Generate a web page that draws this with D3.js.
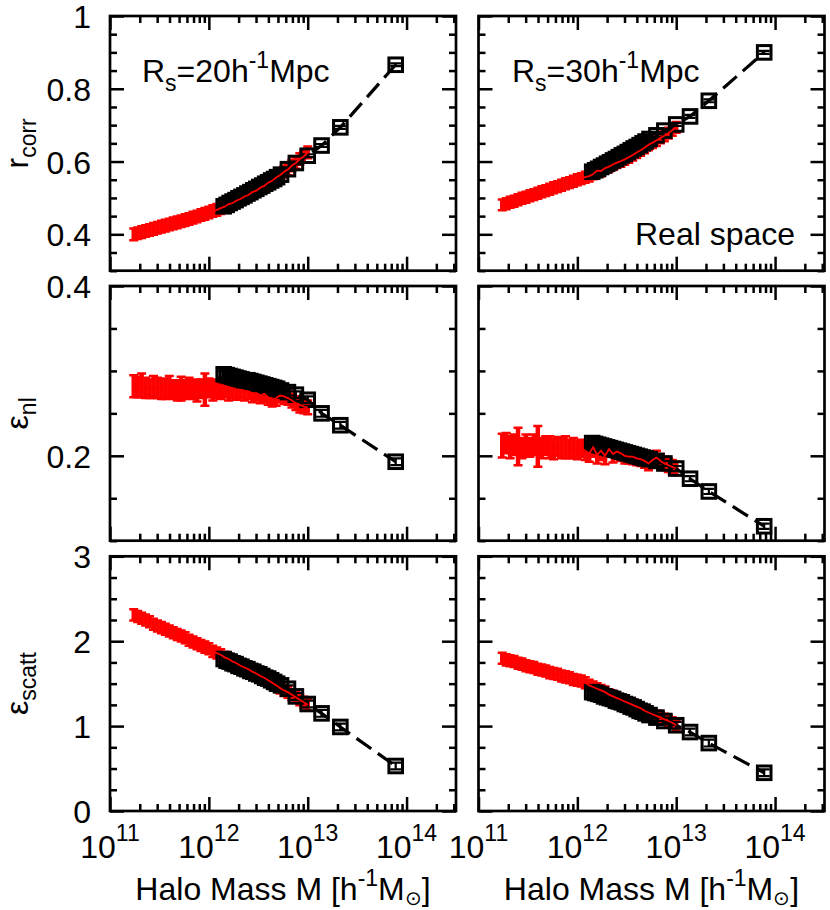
<!DOCTYPE html>
<html>
<head>
<meta charset="utf-8">
<script src="https://cdn.jsdelivr.net/npm/d3@7"></script>
<style>
  html, body { margin: 0; padding: 0; background: #fff; }
  svg text { font-family: "Liberation Sans", Arial, Helvetica, sans-serif; fill: #000; }
</style>
</head>
<body>
<svg id="chart" width="830" height="910"></svg>
<script>
// log10 of halo mass [h^-1 Msun] for the two samples
const logMassRed = [
  11.24, 11.28, 11.32, 11.36, 11.40, 11.44, 11.48, 11.52, 11.56, 11.60,
  11.64, 11.68, 11.72, 11.76, 11.80, 11.84, 11.88, 11.92, 11.96, 12.00,
  12.04, 12.08, 12.12, 12.16, 12.20, 12.24, 12.28, 12.32, 12.36, 12.40,
  12.44, 12.48, 12.52, 12.56, 12.60, 12.64, 12.68, 12.72, 12.76, 12.80,
  12.84, 12.88, 12.92, 12.96, 13.00];
const logMassBlack = [
  12.15, 12.18, 12.21, 12.24, 12.27, 12.30, 12.33, 12.36, 12.39, 12.42,
  12.45, 12.48, 12.51, 12.54, 12.57, 12.60, 12.63, 12.66, 12.69, 12.73,
  12.80, 12.88, 13.00, 13.14, 13.33, 13.89];

// r_corr, Rs = 20 and 30 h^-1 Mpc
const rcorr20Red = [
  0.400, 0.403, 0.406, 0.409, 0.412, 0.415, 0.418, 0.421, 0.424, 0.427,
  0.430, 0.433, 0.436, 0.439, 0.442, 0.446, 0.449, 0.453, 0.456, 0.460,
  0.464, 0.467, 0.472, 0.476, 0.483, 0.486, 0.493, 0.497, 0.504, 0.508,
  0.516, 0.520, 0.528, 0.533, 0.542, 0.547, 0.556, 0.562, 0.572, 0.578,
  0.589, 0.596, 0.607, 0.614, 0.625];
const rcorr20Black = [
  0.477, 0.481, 0.486, 0.490, 0.494, 0.499, 0.503, 0.507, 0.512, 0.516,
  0.521, 0.525, 0.530, 0.534, 0.539, 0.543, 0.548, 0.552, 0.557, 0.564,
  0.579, 0.596, 0.616, 0.644, 0.694, 0.866];
const rcorr30Red = [
  0.481, 0.484, 0.488, 0.491, 0.495, 0.499, 0.502, 0.506, 0.509, 0.513,
  0.517, 0.520, 0.524, 0.528, 0.531, 0.535, 0.539, 0.542, 0.546, 0.550,
  0.553, 0.557, 0.560, 0.566, 0.575, 0.574, 0.582, 0.586, 0.592, 0.597,
  0.601, 0.606, 0.612, 0.618, 0.625, 0.631, 0.638, 0.646, 0.652, 0.658,
  0.665, 0.671, 0.678, 0.686, 0.694];
const rcorr30Black = [
  0.572, 0.576, 0.580, 0.585, 0.589, 0.594, 0.598, 0.603, 0.607, 0.612,
  0.617, 0.621, 0.626, 0.631, 0.636, 0.640, 0.645, 0.650, 0.655, 0.662,
  0.672, 0.685, 0.702, 0.724, 0.767, 0.900];

// epsilon_nl
const nl20Red = [
  0.282, 0.281, 0.283, 0.280, 0.279, 0.281, 0.280, 0.278, 0.279, 0.281,
  0.278, 0.277, 0.279, 0.278, 0.280, 0.278, 0.277, 0.279, 0.278, 0.280,
  0.277, 0.279, 0.277, 0.281, 0.275, 0.279, 0.276, 0.277, 0.275, 0.276,
  0.273, 0.274, 0.271, 0.273, 0.269, 0.266, 0.268, 0.271, 0.270, 0.268,
  0.265, 0.262, 0.260, 0.258, 0.257];
const nl20RedErr = [
  0.013, 0.012, 0.014, 0.012, 0.011, 0.013, 0.012, 0.011, 0.012, 0.013,
  0.011, 0.012, 0.014, 0.011, 0.012, 0.011, 0.013, 0.011, 0.019, 0.011,
  0.012, 0.011, 0.010, 0.012, 0.010, 0.011, 0.010, 0.009, 0.010, 0.009,
  0.010, 0.009, 0.009, 0.010, 0.009, 0.008, 0.009, 0.008, 0.009, 0.008,
  0.008, 0.008, 0.009, 0.008, 0.008];
const nl20Black = [
  0.296, 0.295, 0.294, 0.293, 0.292, 0.291, 0.290, 0.289, 0.289, 0.288,
  0.287, 0.286, 0.285, 0.284, 0.283, 0.282, 0.281, 0.280, 0.279, 0.277,
  0.275, 0.272, 0.266, 0.250, 0.236, 0.193];
const nl30Red = [
  0.212, 0.215, 0.210, 0.213, 0.211, 0.209, 0.212, 0.210, 0.213, 0.211,
  0.209, 0.212, 0.210, 0.208, 0.211, 0.209, 0.210, 0.208, 0.209, 0.207,
  0.209, 0.206, 0.203, 0.210, 0.201, 0.206, 0.200, 0.208, 0.202, 0.205,
  0.203, 0.200, 0.199, 0.199, 0.197, 0.196, 0.194, 0.191, 0.195, 0.198,
  0.194, 0.191, 0.189, 0.187, 0.185];
const nl30RedErr = [
  0.014, 0.012, 0.013, 0.012, 0.022, 0.012, 0.013, 0.011, 0.012, 0.024,
  0.012, 0.011, 0.013, 0.012, 0.011, 0.012, 0.013, 0.011, 0.012, 0.011,
  0.010, 0.011, 0.010, 0.011, 0.010, 0.011, 0.010, 0.009, 0.010, 0.009,
  0.009, 0.009, 0.008, 0.009, 0.008, 0.008, 0.008, 0.008, 0.008, 0.008,
  0.008, 0.008, 0.008, 0.008, 0.008];
const nl30Black = [
  0.215, 0.214, 0.213, 0.212, 0.211, 0.210, 0.209, 0.208, 0.207, 0.206,
  0.205, 0.204, 0.203, 0.202, 0.201, 0.200, 0.199, 0.198, 0.197, 0.196,
  0.194, 0.191, 0.185, 0.173, 0.158, 0.117];

// epsilon_scatt
const sc20Red = [
  2.31, 2.29, 2.27, 2.25, 2.23, 2.20, 2.18, 2.16, 2.14, 2.12,
  2.10, 2.08, 2.06, 2.04, 2.01, 1.99, 1.97, 1.95, 1.93, 1.91,
  1.88, 1.86, 1.84, 1.81, 1.79, 1.76, 1.74, 1.71, 1.69, 1.67,
  1.64, 1.62, 1.59, 1.57, 1.54, 1.51, 1.48, 1.45, 1.42, 1.40,
  1.37, 1.34, 1.31, 1.28, 1.25];
const sc20Black = [
  1.79, 1.77, 1.76, 1.74, 1.73, 1.71, 1.70, 1.68, 1.67, 1.65,
  1.64, 1.62, 1.61, 1.59, 1.57, 1.56, 1.54, 1.52, 1.50, 1.48,
  1.44, 1.35, 1.26, 1.15, 0.99, 0.53];
const sc30Red = [
  1.80, 1.78, 1.77, 1.76, 1.74, 1.73, 1.71, 1.70, 1.69, 1.67,
  1.66, 1.65, 1.63, 1.62, 1.61, 1.59, 1.58, 1.57, 1.55, 1.54,
  1.53, 1.51, 1.48, 1.46, 1.44, 1.42, 1.40, 1.37, 1.35, 1.33,
  1.31, 1.29, 1.27, 1.25, 1.23, 1.21, 1.18, 1.16, 1.14, 1.12,
  1.10, 1.08, 1.06, 1.04, 1.01];
const sc30Black = [
  1.40, 1.39, 1.38, 1.37, 1.35, 1.34, 1.33, 1.32, 1.30, 1.29,
  1.28, 1.26, 1.25, 1.23, 1.22, 1.20, 1.18, 1.17, 1.15, 1.13,
  1.10, 1.06, 1.01, 0.93, 0.80, 0.45];

// flat error bars (panel order: rcorr20, rcorr30, nl20, nl30, sc20, sc30)
const redErrFlat = [0.016, 0.015, null, null, 0.065, 0.065];
const blackErr = [0.004, 0.004, 0.004, 0.003, 0.04, 0.04];

// axes
const yDomains = [[0.3, 1], [0.1, 0.4], [0, 3]];
const yMajor = [[0.4, 0.6, 0.8, 1], [0.2, 0.4], [0, 1, 2, 3]];
const yMinor = [
  [0.3, 0.35, 0.45, 0.5, 0.55, 0.65, 0.7, 0.75, 0.85, 0.9, 0.95],
  [0.1, 0.15, 0.25, 0.3, 0.35],
  [0.25, 0.5, 0.75, 1.25, 1.5, 1.75, 2.25, 2.5, 2.75]];
const xMajor = [1e11, 1e12, 1e13, 1e14];
const xTickExp = ['11', '12', '13', '14'];
const massDomain = [1e11, Math.pow(10, 14.5)];

const panels = [
  {row: 0, col: 0, red: rcorr20Red, black: rcorr20Black, redErr: redErrFlat[0], bErr: blackErr[0]},
  {row: 0, col: 1, red: rcorr30Red, black: rcorr30Black, redErr: redErrFlat[1], bErr: blackErr[1]},
  {row: 1, col: 0, red: nl20Red, black: nl20Black, redErr: nl20RedErr, bErr: blackErr[2]},
  {row: 1, col: 1, red: nl30Red, black: nl30Black, redErr: nl30RedErr, bErr: blackErr[3]},
  {row: 2, col: 0, red: sc20Red, black: sc20Black, redErr: redErrFlat[4], bErr: blackErr[4]},
  {row: 2, col: 1, red: sc30Red, black: sc30Black, redErr: redErrFlat[5], bErr: blackErr[5]}
];

const RED = '#ff0000';
const FS = 32, FS_SMALL = 23;
const svg = d3.select('#chart');
const colX = [110, 478.5];
const rowY = [16, 286, 556.3];
const pw = 346, ph = 254.7;

// minor log ticks 2..9 per decade
const xMinor = [];
for (let e = 11; e <= 14; e++) {
  for (let k = 2; k <= 9; k++) {
    const v = k * Math.pow(10, e);
    if (v < massDomain[1]) xMinor.push(v);
  }
}

function tickGroup(g, axis, tr) {
  const a = g.append('g').attr('transform', tr).call(axis);
  a.attr('font-size', null).attr('font-family', null);
  a.select('.domain').remove();
  a.selectAll('line').attr('stroke', '#000').attr('stroke-width', 2.5);
  a.selectAll('text').attr('font-size', FS).attr('fill', '#000').attr('dy', '0.36em');
  return a;
}

panels.forEach(p => {
  const x0 = colX[p.col], y0 = rowY[p.row];
  const x = d3.scaleLog().domain(massDomain).range([x0, x0 + pw]);
  const y = d3.scaleLinear().domain(yDomains[p.row]).range([y0 + ph, y0]);
  const g = svg.append('g');

  const redPts = logMassRed.map((m, i) => ({
    m: Math.pow(10, m), v: p.red[i],
    e: Array.isArray(p.redErr) ? p.redErr[i] : p.redErr
  }));
  const blackPts = logMassBlack.map((m, i) => ({m: Math.pow(10, m), v: p.black[i], e: p.bErr}));
  const line = d3.line().x(d => x(d.m)).y(d => y(d.v));

  // red error bars
  const rg = g.append('g').attr('stroke', RED).attr('fill', 'none');
  rg.selectAll('line').data(redPts).join('line')
    .attr('x1', d => x(d.m)).attr('x2', d => x(d.m))
    .attr('y1', d => y(d.v - d.e)).attr('y2', d => y(d.v + d.e))
    .attr('stroke-width', 4.5);
  rg.selectAll('path').data(redPts).join('path')
    .attr('d', d => `M${x(d.m) - 4.5},${y(d.v - d.e)}H${x(d.m) + 4.5}M${x(d.m) - 4.5},${y(d.v + d.e)}H${x(d.m) + 4.5}`)
    .attr('stroke-width', 2.5);

  // black dashed line
  g.append('path').datum(blackPts).attr('d', line)
    .attr('fill', 'none').attr('stroke', '#000').attr('stroke-width', 3.2)
    .attr('stroke-dasharray', '18,8');

  // black error bars and squares
  const bg = g.append('g').attr('stroke', '#000').attr('fill', 'none');
  bg.selectAll('path').data(blackPts).join('path')
    .attr('d', d => `M${x(d.m)},${y(d.v - d.e)}V${y(d.v + d.e)}M${x(d.m) - 5.5},${y(d.v - d.e)}H${x(d.m) + 5.5}M${x(d.m) - 5.5},${y(d.v + d.e)}H${x(d.m) + 5.5}`)
    .attr('stroke-width', 2.2);
  bg.selectAll('rect').data(blackPts).join('rect')
    .attr('x', d => x(d.m) - 6.8).attr('y', d => y(d.v) - 6.8)
    .attr('width', 13.6).attr('height', 13.6)
    .attr('stroke-width', 3);

  // red connecting line on top
  g.append('path').datum(redPts).attr('d', line)
    .attr('fill', 'none').attr('stroke', RED).attr('stroke-width', 1.8);

  // ticks on all four sides, pointing inwards
  tickGroup(g, d3.axisBottom(x).tickValues(xMajor).tickSize(-14).tickFormat(''), `translate(0,${y0 + ph})`);
  tickGroup(g, d3.axisBottom(x).tickValues(xMinor).tickSize(-7).tickFormat(''), `translate(0,${y0 + ph})`);
  tickGroup(g, d3.axisTop(x).tickValues(xMajor).tickSize(-14).tickFormat(''), `translate(0,${y0})`);
  tickGroup(g, d3.axisTop(x).tickValues(xMinor).tickSize(-7).tickFormat(''), `translate(0,${y0})`);
  tickGroup(g, d3.axisLeft(y).tickValues(yMajor[p.row]).tickSize(-14).tickPadding(19)
    .tickFormat(p.col === 0 ? d => String(d) : ''), `translate(${x0},0)`);
  tickGroup(g, d3.axisLeft(y).tickValues(yMinor[p.row]).tickSize(-7).tickFormat(''), `translate(${x0},0)`);
  tickGroup(g, d3.axisRight(y).tickValues(yMajor[p.row]).tickSize(-14).tickFormat(''), `translate(${x0 + pw},0)`);
  tickGroup(g, d3.axisRight(y).tickValues(yMinor[p.row]).tickSize(-7).tickFormat(''), `translate(${x0 + pw},0)`);

  // frame
  g.append('rect').attr('x', x0).attr('y', y0).attr('width', pw).attr('height', ph)
    .attr('fill', 'none').attr('stroke', '#000').attr('stroke-width', 2.7);

  // x tick labels and title on the bottom row
  if (p.row === 2) {
    xMajor.forEach((v, i) => {
      const t = g.append('text').attr('x', x(v)).attr('y', y0 + ph + 47)
        .attr('text-anchor', 'middle').attr('font-size', FS);
      t.append('tspan').text('10');
      t.append('tspan').attr('dy', -17).attr('font-size', FS_SMALL).text(xTickExp[i]);
    });
    const t = g.append('text').attr('x', x0 + pw / 2).attr('y', 900)
      .attr('text-anchor', 'middle').attr('font-size', FS);
    t.append('tspan').text('Halo Mass M [h');
    t.append('tspan').attr('dy', -14).attr('font-size', FS_SMALL).text('-1');
    t.append('tspan').attr('dy', 14).text('M');
    t.append('tspan').attr('dy', 5).attr('font-size', FS_SMALL - 3).text('\u2299');
    t.append('tspan').attr('dy', -5).text(']');
  }
});

// y axis titles
const yTitles = [['r', 'corr'], ['\u03b5', 'nl'], ['\u03b5', 'scatt']];
yTitles.forEach((tt, r) => {
  const cy = rowY[r] + ph / 2;
  const t = svg.append('text').attr('transform', `translate(28,${cy}) rotate(-90)`)
    .attr('text-anchor', 'middle').attr('font-size', FS);
  t.append('tspan').text(tt[0]);
  t.append('tspan').attr('dy', 8).attr('font-size', FS_SMALL).text(tt[1]);
});

// annotations
function rsLabel(xp, val) {
  const t = svg.append('text').attr('x', xp).attr('y', 82).attr('font-size', FS);
  t.append('tspan').text('R');
  t.append('tspan').attr('dy', 9).attr('font-size', FS_SMALL).text('s');
  t.append('tspan').attr('dy', -9).text('=' + val + 'h');
  t.append('tspan').attr('dy', -14).attr('font-size', FS_SMALL).text('-1');
  t.append('tspan').attr('dy', 14).text('Mpc');
}
rsLabel(142, '20');
rsLabel(512, '30');
svg.append('text').attr('x', 635).attr('y', 245).attr('font-size', FS).text('Real space');
</script>
</body>
</html>
